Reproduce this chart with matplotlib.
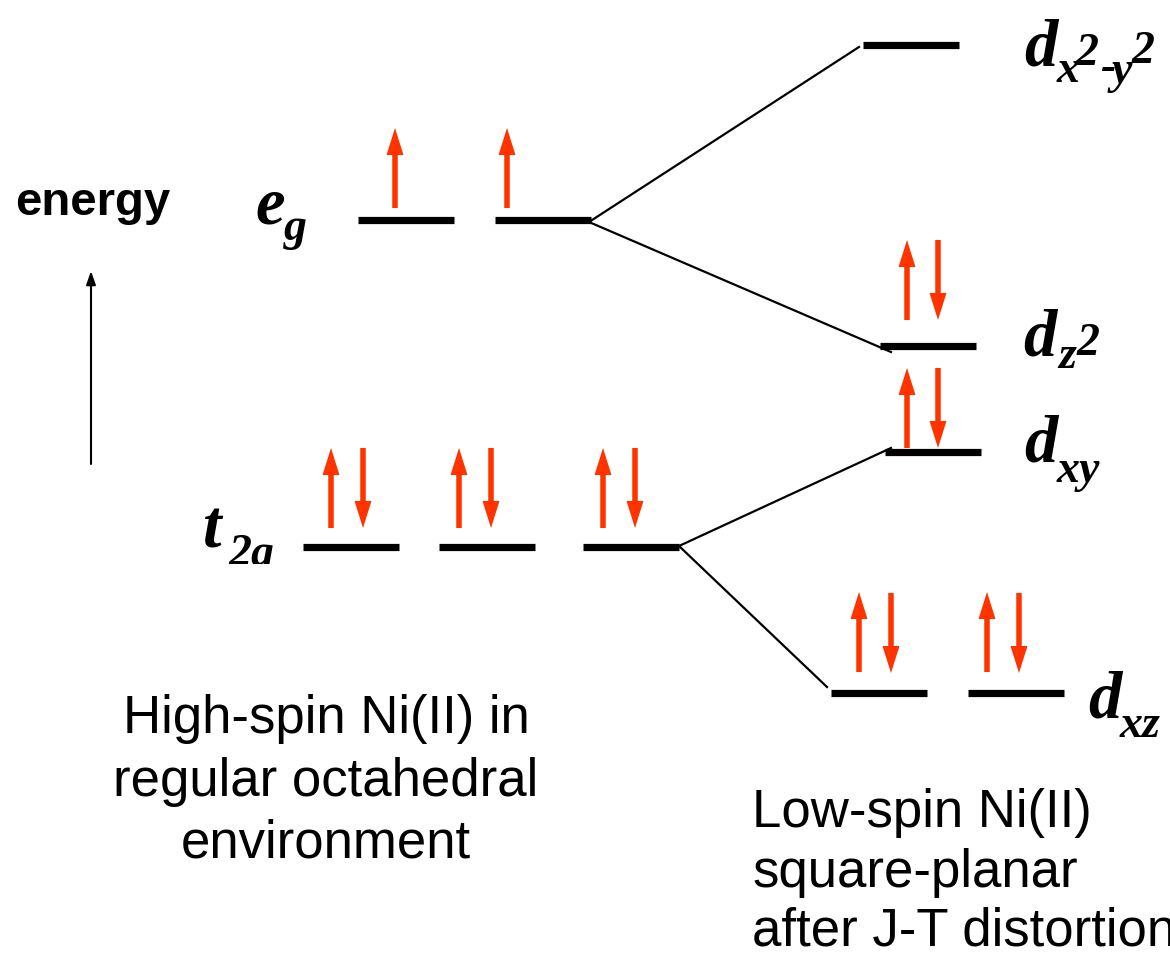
import matplotlib
matplotlib.use("Agg")
import matplotlib.pyplot as plt
from matplotlib.patches import Rectangle

# ---- data (pixel-space diagram coordinates) ----
level_x0 = [303, 439, 583, 358, 495, 863, 880, 885, 831, 968]
level_y = [547, 547, 547, 220, 220, 45, 346, 452, 693, 693]
level_w = 96

up_x = [331, 459, 603, 395, 507, 907, 907, 859, 987]
up_base = [528, 528, 528, 208, 208, 320, 448, 672, 672]
down_x = [363, 491, 635, 938, 938, 891, 1019]
down_top = [448, 448, 448, 240, 368, 593, 593]
spin_len = 80

conn_x0 = [589, 589, 679, 679]
conn_y0 = [222, 222, 546, 546]
conn_x1 = [859, 891, 891, 827]
conn_y1 = [47, 352, 448, 687]

# orbital label pieces: text, x, baseline y, size
label_txt = ['e', 'g', 't', '2g',
             'd', 'x', '2', '-', 'y', '2',
             'd', 'z', '2',
             'd', 'xy',
             'd', 'xz']
label_x = [255, 284, 203, 229,
           1024, 1057, 1076, 1100, 1112, 1132,
           1023, 1058, 1077,
           1024, 1057,
           1088, 1120]
label_y = [223, 240, 547, 566,
           65, 82, 65, 80, 83, 63,
           355, 368, 355,
           462, 482,
           717, 737]
label_size = [48, 33, 48, 33,
              48, 33, 33, 33, 33, 33,
              48, 33, 33,
              48, 33,
              48, 33]

left_caption = ["High-spin Ni(II) in", "regular octahedral", "environment"]
left_cap_y = [733, 796, 857]
right_caption = ["Low-spin Ni(II)", "square-planar", "after J-T distortion"]
right_cap_y = [827, 887, 945]

RED = '#FF3300'

fig = plt.figure(figsize=(11.7, 9.57), dpi=100)
ax = fig.add_axes([0, 0, 1, 1])
ax.set_xlim(0, 1170)
ax.set_ylim(957, 0)
ax.axis('off')

# levels
for x0, y in zip(level_x0, level_y):
    ax.plot([x0, x0 + level_w], [y, y], color='black', lw=5.2, solid_capstyle='butt')

# correlation lines
for xa, ya, xb, yb in zip(conn_x0, conn_y0, conn_x1, conn_y1):
    ax.plot([xa, xb], [ya, yb], color='black', lw=1.6)

# spins
for x, yb in zip(up_x, up_base):
    ax.arrow(x, yb, 0, -spin_len, width=5.5, head_width=17, head_length=27,
             length_includes_head=True, color=RED, lw=0)
for x, yt in zip(down_x, down_top):
    ax.arrow(x, yt, 0, spin_len, width=5.5, head_width=17, head_length=27,
             length_includes_head=True, color=RED, lw=0)

# orbital labels
for s, x, y, fs in zip(label_txt, label_x, label_y, label_size):
    t = ax.text(x, y, s, fontsize=fs, family='Liberation Serif', fontweight='bold',
                fontstyle='italic', ha='left', va='baseline', color='black')
    if s == '2g':
        t.set_clip_on(True)
        t.set_clip_path(Rectangle((100, 400), 300, 164, transform=ax.transData))

# energy axis
ax.text(15, 215, 'energy', fontsize=34, fontweight='bold', family='Liberation Sans',
        ha='left', va='baseline')
ax.annotate('', xy=(91, 271), xytext=(91, 464),
            arrowprops=dict(arrowstyle='-|>,head_length=0.8,head_width=0.28',
                            color='black', lw=1.5, shrinkA=0, shrinkB=0))

# captions
for s, y in zip(left_caption, left_cap_y):
    ax.text(326, y, s, fontsize=38, family='Liberation Sans', ha='center', va='baseline')
for s, y in zip(right_caption, right_cap_y):
    ax.text(752, y, s, fontsize=38, family='Liberation Sans', ha='left', va='baseline')

fig.savefig('out.png', dpi=100)
